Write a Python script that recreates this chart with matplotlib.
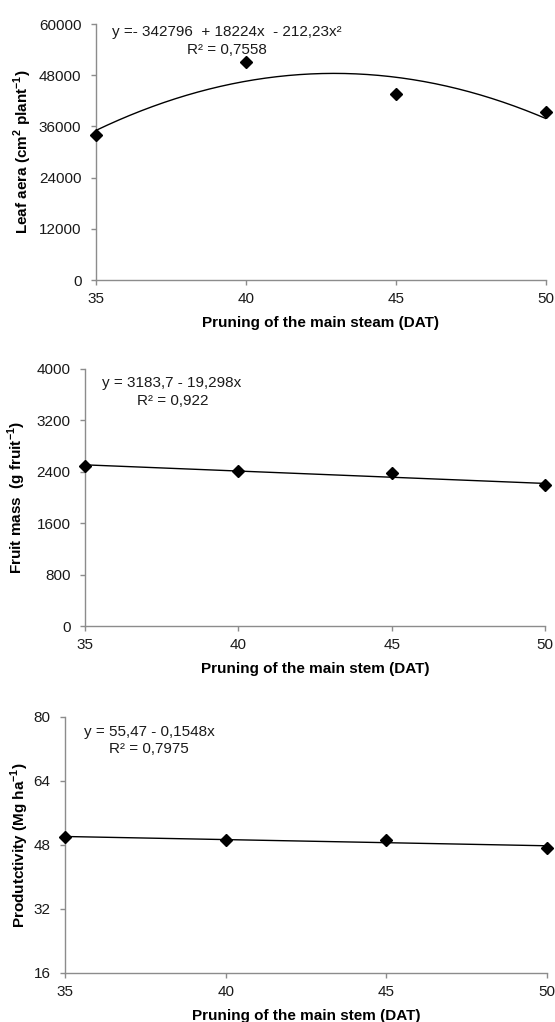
import numpy as np
import matplotlib
matplotlib.use('Agg')
import matplotlib.pyplot as plt

plt.rcParams['font.family'] = ['Liberation Sans', 'DejaVu Sans']
plt.rcParams['mathtext.fontset'] = 'custom'
plt.rcParams['mathtext.rm'] = 'Liberation Sans'
plt.rcParams['mathtext.bf'] = 'Liberation Sans:bold'

# dados
dat = [35, 40, 45, 50]
leaf_area = [33980, 51020, 43520, 39300]
fruit_mass = [2497, 2420, 2374, 2194]
productivity = [50.0, 49.2, 49.1, 47.25]

# coeficientes das equacoes (maior grau primeiro)
leaf_coef = [-212.23, 18224, -342796]
fruit_coef = [-19.298, 3183.7]
prod_coef = [-0.1548, 55.47]

leaf_ticks = [0, 12000, 24000, 36000, 48000, 60000]
fruit_ticks = [0, 800, 1600, 2400, 3200, 4000]
prod_ticks = [16, 32, 48, 64, 80]
x_ticks = [35, 40, 45, 50]

W, H = 555, 1022
fig = plt.figure(figsize=(W / 100, H / 100), dpi=100)

GRAY = '#8c8c8c'


def px_axes(left, right, top, bottom):
    return fig.add_axes([left / W, 1 - bottom / H, (right - left) / W, (bottom - top) / H])


def panel(ax, y, coef, yticks, ylabel, xlabel, eq, r2, eq_pos, r2_pos, ylab_x):
    xs = np.linspace(dat[0], dat[-1], 200)
    ax.plot(xs, np.polyval(coef, xs), color='black', lw=1.0)
    ax.plot(dat, y, linestyle='none', marker='D', markersize=6.5, color='black', clip_on=False, zorder=5)
    ax.set_xlim(dat[0], dat[-1])
    ax.set_ylim(yticks[0], yticks[-1])
    ax.set_xticks(x_ticks)
    ax.set_yticks(yticks)
    for s in ['top', 'right']:
        ax.spines[s].set_visible(False)
    for s in ['left', 'bottom']:
        ax.spines[s].set_color(GRAY)
        ax.spines[s].set_linewidth(1.0)
    ax.tick_params(axis='both', direction='out', length=3.5, width=1.0, color=GRAY, labelsize=11, labelcolor='#1a1a1a')
    ax.tick_params(axis='y', pad=7)
    ax.tick_params(axis='x', pad=5)
    ax.set_xlabel(xlabel, fontsize=11, fontweight='bold', va='center')
    ax.xaxis.set_label_coords(0.5, -0.168)
    ax.set_ylabel(ylabel, fontsize=11, fontweight='bold', va='center')
    ax.yaxis.set_label_coords(ylab_x, 0.5)
    ax.text(eq_pos[0], eq_pos[1], eq, transform=ax.transAxes, ha='center', va='center', fontsize=11, color='#1a1a1a')
    ax.text(r2_pos[0], r2_pos[1], r2, transform=ax.transAxes, ha='center', va='center', fontsize=11, color='#1a1a1a')


ax1 = px_axes(96, 546, 24, 280)
panel(ax1, leaf_area, leaf_coef, leaf_ticks,
      r'Leaf aera (cm$^{\mathbf{2}}$ plant$^{\mathbf{-1}}$)',
      'Pruning of the main steam (DAT)',
      'y =- 342796  + 18224x  - 212,23x²', 'R² = 0,7558',
      (0.291, 0.969), (0.29, 0.898), -0.162)

ax2 = px_axes(85, 545, 369, 626)
panel(ax2, fruit_mass, fruit_coef, fruit_ticks,
      r'Fruit mass  (g fruit$^{\mathbf{-1}}$)',
      'Pruning of the main stem (DAT)',
      'y = 3183,7 - 19,298x', 'R² = 0,922',
      (0.189, 0.944), (0.191, 0.875), -0.148)

ax3 = px_axes(65, 547, 716.7, 972.7)
panel(ax3, productivity, prod_coef, prod_ticks,
      r'Produtctivity (Mg ha$^{\mathbf{-1}}$)',
      'Pruning of the main stem (DAT)',
      'y = 55,47 - 0,1548x', 'R² = 0,7975',
      (0.176, 0.941), (0.174, 0.873), -0.093)

fig.savefig('out.png', dpi=100)
plt.close(fig)
